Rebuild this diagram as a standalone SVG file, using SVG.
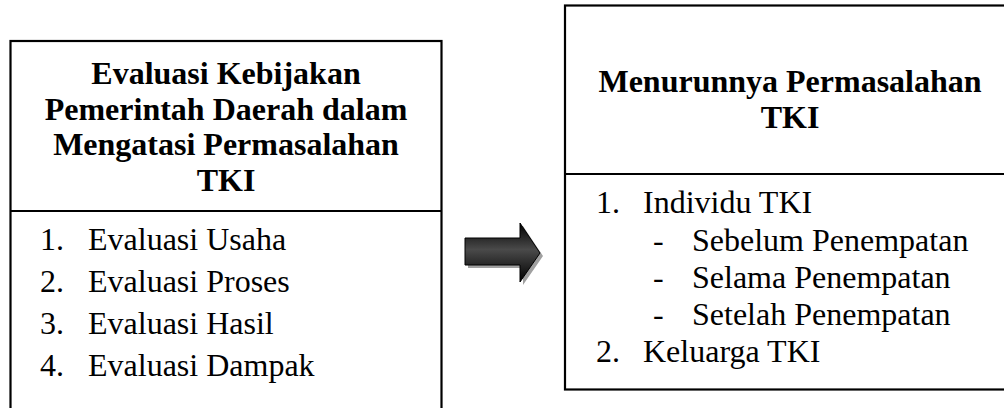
<svg xmlns="http://www.w3.org/2000/svg" width="1004" height="408" viewBox="0 0 1004 408">
<defs>
<style>
.box{fill:#fff;stroke:#000;stroke-width:2.2}
.t{font-family:"Liberation Serif","Times New Roman",serif;font-size:32px;fill:#000}
.b{font-weight:bold;text-anchor:middle}
</style>
<linearGradient id="ag" x1="0" y1="0" x2="0" y2="1">
<stop offset="0" stop-color="#000"/>
<stop offset="0.45" stop-color="#4a4a4a"/>
<stop offset="1" stop-color="#000"/>
</linearGradient>
</defs>
<rect width="1004" height="408" fill="#fff"/>
<g id="node-left">
<rect class="box" x="10.5" y="41" width="431" height="380"/>
<line x1="10.5" y1="211" x2="441.5" y2="211" stroke="#000" stroke-width="2.2"/>
<text class="t b" x="226" y="84">Evaluasi Kebijakan</text>
<text class="t b" x="226" y="119.5">Pemerintah Daerah dalam</text>
<text class="t b" x="226" y="155">Mengatasi Permasalahan</text>
<text class="t b" x="226" y="190.5">TKI</text>
<text class="t" x="40" y="250">1.</text><text class="t" x="88" y="250">Evaluasi Usaha</text>
<text class="t" x="40" y="292">2.</text><text class="t" x="88" y="292">Evaluasi Proses</text>
<text class="t" x="40" y="334">3.</text><text class="t" x="88" y="334">Evaluasi Hasil</text>
<text class="t" x="40" y="376">4.</text><text class="t" x="88" y="376">Evaluasi Dampak</text>
</g>
<g id="node-right">
<rect class="box" x="565" y="5.5" width="450" height="384"/>
<line x1="565" y1="174" x2="1015" y2="174" stroke="#000" stroke-width="2.2"/>
<text class="t b" x="790" y="92">Menurunnya Permasalahan</text>
<text class="t b" x="790" y="128">TKI</text>
<text class="t" x="596" y="213">1.</text><text class="t" x="643" y="213">Individu TKI</text>
<text class="t" x="653" y="251">-</text><text class="t" x="692" y="251">Sebelum Penempatan</text>
<text class="t" x="653" y="288">-</text><text class="t" x="692" y="288">Selama Penempatan</text>
<text class="t" x="653" y="325">-</text><text class="t" x="692" y="325">Setelah Penempatan</text>
<text class="t" x="596" y="362">2.</text><text class="t" x="643" y="362">Keluarga TKI</text>
</g>
<g id="connectors">
<polygon points="468,241 523,241 523,226 543,256 523,285 523,268 468,268" fill="#888" opacity="0.8"/>
<polygon points="465,238 520,238 520,223 540,253 520,282 520,265 465,265" fill="url(#ag)" stroke="#000" stroke-width="1"/>
</g>
</svg>
